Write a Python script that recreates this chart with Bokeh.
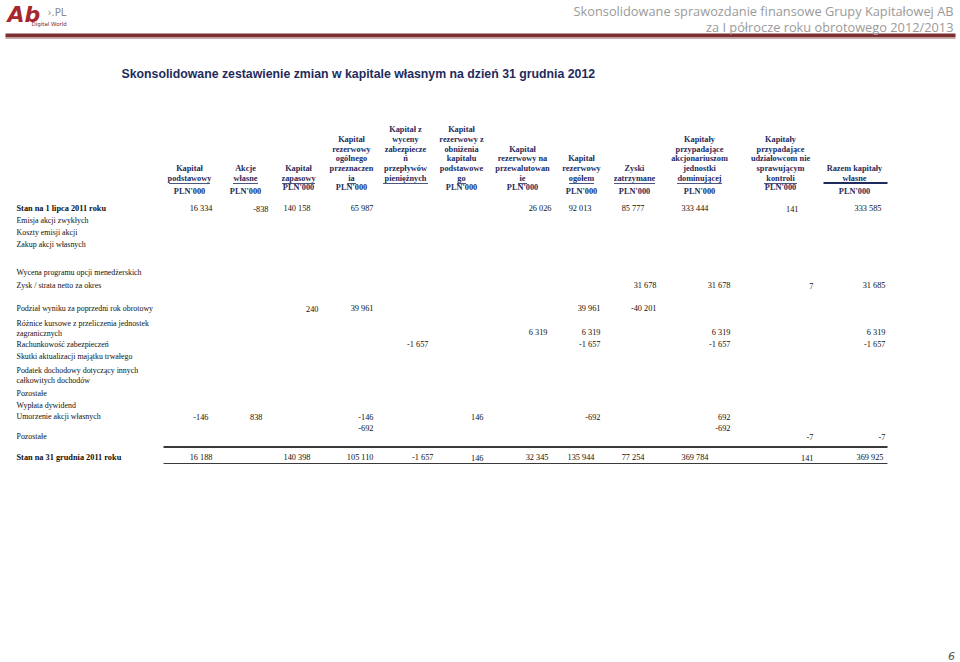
from bokeh.plotting import figure
from bokeh.models import Range1d, ColumnDataSource
from bokeh.core.properties import value
from bokeh.embed import file_html
from bokeh.resources import INLINE

# ---------------- data ----------------
HEADERS = [
    ["Kapitał", "podstawowy"],
    ["Akcje", "własne"],
    ["Kapitał", "zapasowy"],
    ["Kapitał", "rezerwowy", "ogólnego", "przeznaczen", "ia"],
    ["Kapitał z", "wyceny", "zabezpiecze", "ń", "przepływów", "pieniężnych"],
    ["Kapitał", "rezerwowy z", "obniżenia", "kapitału", "podstawowe", "go"],
    ["Kapitał", "rezerwowy na", "przewalutowan", "ie"],
    ["Kapitał", "rezerwowy", "ogółem"],
    ["Zyski", "zatrzymane"],
    ["Kapitały", "przypadające", "akcjonariuszom", "jednostki", "dominującej"],
    ["Kapitały", "przypadające", "udziałowcom nie", "sprawującym", "kontroli"],
    ["Razem kapitały", "własne"],
]
UNITS = ["PLN'000", "PLN'000", "PLN'000", "PLN'000", "", "PLN'000", "PLN'000",
         "PLN'000", "PLN'000", "PLN'000", "PLN'000", "PLN'000"]

ROW_LABELS = [
    "Stan na 1 lipca 2011 roku",
    "Emisja akcji zwykłych",
    "Koszty emisji akcji",
    "Zakup akcji własnych",
    "Wycena programu opcji menedżerskich",
    "Zysk / strata netto za okres",
    "Podział wyniku za poprzedni rok obrotowy",
    "Różnice kursowe z przeliczenia jednostek",
    "zagranicznych",
    "Rachunkowość zabezpieczeń",
    "Skutki aktualizacji majątku trwałego",
    "Podatek dochodowy dotyczący innych",
    "całkowitych dochodów",
    "Pozostałe",
    "Wypłata dywidend",
    "Umorzenie akcji własnych",
    "Pozostałe",
    "Stan na 31 grudnia 2011 roku",
]
BOLD_LABELS = ["Stan na 1 lipca 2011 roku", "Stan na 31 grudnia 2011 roku"]

OPEN_2011 = ["16 334", "-838", "140 158", "65 987", "", "", "26 026", "92 013", "85 777", "333 444", "141", "333 585"]
ZYSK_NETTO = ["", "", "", "", "", "", "", "", "31 678", "31 678", "7", "31 685"]
PODZIAL = ["", "", "240", "39 961", "", "", "", "39 961", "-40 201", "", "", ""]
ROZNICE = ["", "", "", "", "", "", "6 319", "6 319", "", "6 319", "", "6 319"]
RACHUNKOWOSC = ["", "", "", "", "-1 657", "", "", "-1 657", "", "-1 657", "", "-1 657"]
UMORZENIE = ["-146", "838", "", "-146", "", "146", "", "-692", "", "692", "", ""]
UMORZENIE_2 = ["", "", "", "-692", "", "", "", "", "", "-692", "", ""]
POZOSTALE = ["", "", "", "", "", "", "", "", "", "", "-7", "-7"]
CLOSE_2011 = ["16 188", "", "140 398", "105 110", "-1 657", "146", "32 345", "135 944", "77 254", "369 784", "141", "369 925"]

TITLE = "Skonsolidowane zestawienie zmian w kapitale własnym na dzień 31 grudnia 2012"
TOP_RIGHT = ["Skonsolidowane sprawozdanie finansowe Grupy Kapitałowej AB",
             "za I półrocze roku obrotowego 2012/2013"]
PAGE = "6"

# ---------------- layout ----------------
W, H = 960, 662
HEAD_X = [189, 245, 298, 351, 405, 461, 522, 581, 634, 699, 780, 854]
UNIT_Y = [191, 191, 187, 187, 187, 187, 187, 191, 191, 191, 187, 191]
OPEN_R = [212, 268, 310, 373, 433, 483, 551, 591, 644, 708, 798, 881]
MOVE_R = [208, 262, 318, 373, 428, 483, 547, 600, 656, 730, 813, 885]
CLOSE_R = [212, 268, 310, 373, 433, 483, 548, 594, 644, 708, 813, 883]
LABEL_Y = [208, 220, 232, 244, 272, 285, 308, 323, 333, 344, 356, 370, 380, 393, 405, 416, 436, 457]
VALUE_ROWS = [
    (OPEN_2011, OPEN_R, 208),
    (ZYSK_NETTO, MOVE_R, 285),
    (PODZIAL, MOVE_R, 308),
    (ROZNICE, MOVE_R, 332),
    (RACHUNKOWOSC, MOVE_R, 344),
    (UMORZENIE, MOVE_R, 416),
    (UMORZENIE_2, MOVE_R, 427),
    (POZOSTALE, MOVE_R, 436),
    (CLOSE_2011, CLOSE_R, 457),
]

NAVY = "#1f2b5c"
FS = "8.3px"
LFS = "7.9px"

p = figure(width=W, height=H, x_range=Range1d(0, W), y_range=Range1d(H, 0),
           output_backend="svg", toolbar_location=None, min_border=0)
p.axis.visible = False
p.grid.visible = False
p.outline_line_color = None
p.background_fill_color = "white"
p.border_fill_color = "white"

# top band
p.quad(left=[5], right=[955], top=[33], bottom=[37], fill_color="#7b2f30", line_color=None)
p.quad(left=[5], right=[955], top=[37], bottom=[38.5], fill_color="#c9a9a9", line_color=None)

# logo
p.text(x=[7], y=[14], text=["Ab"], text_font=value("DejaVu Sans"), text_font_style="bold italic",
       text_font_size="22px", text_color="#a8262d", text_baseline="middle")
p.text(x=[47], y=[12], text=["\u203a.PL"], text_font=value("DejaVu Sans"),
       text_font_size="10px", text_color="#8a8a8a", text_baseline="middle")
p.text(x=[31], y=[23], text=["Digital World"], text_font=value("DejaVu Sans"),
       text_font_size="5.5px", text_color="#7a2a2a", text_baseline="middle")

# top-right heading
p.text(x=[953, 953], y=[10, 26], text=TOP_RIGHT, text_font=value("Open Sans"),
       text_font_size="12.8px", text_color="#9a9a9a", text_align="right", text_baseline="middle")

# title
p.text(x=[121], y=[73], text=[TITLE], text_font=value("Liberation Sans"), text_font_style="bold",
       text_font_size="12.3px", text_color=NAVY, text_baseline="middle")

# column headers
hx, hy, ht = [], [], []
ux0, ux1, uy = [], [], []
for cx, lines in zip(HEAD_X, HEADERS):
    n = len(lines)
    for i, t in enumerate(lines):
        hx.append(cx)
        hy.append(178 - (n - 1 - i) * 9.8)
        ht.append(t)
    w = max(len(lines[-1]) * 4.0, 8) + 1
    ux0.append(cx - w / 2)
    ux1.append(cx + w / 2)
    uy.append(183)
p.text(x=hx, y=hy, text=ht, text_font=value("Liberation Serif"), text_font_style="bold",
       text_font_size=FS, text_color=NAVY, text_align="center", text_baseline="middle")
p.segment(x0=ux0, x1=ux1, y0=uy, y1=uy, line_color=NAVY, line_width=0.8)
p.segment(x0=[823], x1=[887], y0=[182.5], y1=[182.5], line_color=NAVY, line_width=2)

p.text(x=HEAD_X, y=UNIT_Y, text=UNITS, text_font=value("Liberation Serif"), text_font_style="bold",
       text_font_size=FS, text_color=NAVY, text_align="center", text_baseline="middle")

# row labels
norm = [(y, t) for y, t in zip(LABEL_Y, ROW_LABELS) if t not in BOLD_LABELS]
bold = [(y, t) for y, t in zip(LABEL_Y, ROW_LABELS) if t in BOLD_LABELS]
p.text(x=[16] * len(norm), y=[a for a, _ in norm], text=[b for _, b in norm],
       text_font=value("Liberation Serif"), text_font_size=LFS, text_color="#111111",
       text_baseline="middle")
p.text(x=[16] * len(bold), y=[a for a, _ in bold], text=[b for _, b in bold],
       text_font=value("Liberation Serif"), text_font_style="bold", text_font_size=FS,
       text_color="#111111", text_baseline="middle")

# values
vx, vy, vt = [], [], []
for vals, anchors, y in VALUE_ROWS:
    for v, a in zip(vals, anchors):
        if v:
            vx.append(a)
            vy.append(y)
            vt.append(v)
src = ColumnDataSource(dict(x=vx, y=vy, t=vt))
p.text(x="x", y="y", text="t", source=src, text_font=value("Liberation Serif"),
       text_font_size=FS, text_color="#111111", text_align="right", text_baseline="middle")

# rules around closing balance
p.segment(x0=[163], x1=[887], y0=[446.5], y1=[446.5], line_color="#3a3a3a", line_width=2)
p.segment(x0=[163], x1=[887], y0=[463], y1=[463], line_color="#3a3a3a", line_width=1)

# page number
p.text(x=[951], y=[655], text=[PAGE], text_font=value("DejaVu Sans"), text_font_style="italic",
       text_font_size="11px", text_color="#555555", text_align="center", text_baseline="middle")

open("out.html", "w").write(file_html(p, INLINE))
